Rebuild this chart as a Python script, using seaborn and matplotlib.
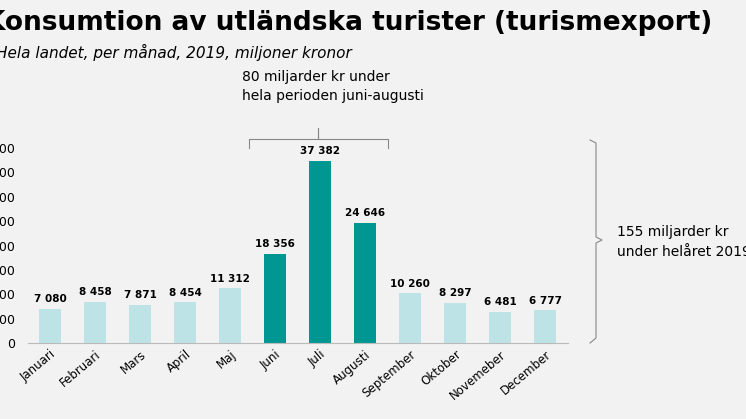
import matplotlib
matplotlib.use("Agg")
import matplotlib.pyplot as plt
import seaborn as sns
import pandas as pd

months = ["Januari","Februari","Mars","April","Maj","Juni","Juli","Augusti","September","Oktober","Novemeber","December"]
values = [7080, 8458, 7871, 8454, 11312, 18356, 37382, 24646, 10260, 8297, 6481, 6777]
highlight = [False]*5 + [True]*3 + [False]*4
yticks = list(range(0, 40001, 5000))

light, dark = "#bde3e6", "#009691"
bg = "#f2f2f2"
df = pd.DataFrame({"month": months, "value": values})

fig = plt.figure(figsize=(7.46, 4.19), dpi=100, facecolor=bg)
ax = fig.add_axes([0.037, 0.181, 0.724, 0.466])
ax.set_facecolor(bg)
sns.barplot(data=df, x="month", y="value", hue="month",
            palette=[dark if h else light for h in highlight], legend=False,
            width=0.5, saturation=1, ax=ax)
ax.set_xlim(-0.5, 11.5)
ax.set_ylim(0, 40000)
ax.set_yticks(yticks)
ax.set_yticklabels([f"{t:,}".replace(",", " ") for t in yticks], fontsize=9)
ax.tick_params(axis="y", length=0, pad=9)
ax.tick_params(axis="x", length=0, labelsize=8.5)
plt.setp(ax.get_xticklabels(), rotation=40, ha="right", rotation_mode="anchor")
ax.set_xlabel(""); ax.set_ylabel("")
for s in ["top", "right", "left"]:
    ax.spines[s].set_visible(False)
ax.spines["bottom"].set_color("#bbbbbb")
for i, v in enumerate(values):
    ax.text(i, v + 900, f"{v:,}".replace(",", " "), ha="center", va="bottom",
            fontsize=7.5, fontweight="bold")

fig.text(-0.02, 0.945, "Konsumtion av utländska turister (turismexport)", fontsize=19,
         fontweight="bold", va="center")
fig.text(-0.005, 0.875, "Hela landet, per månad, 2019, miljoner kronor", fontsize=11,
         style="italic", va="center", ha="left")
fig.text(0.324, 0.793, "80 miljarder kr under\nhela perioden juni-augusti", fontsize=10,
         va="center", linespacing=1.5)
W, H = 746, 419
def fx(x): return x / W
def fy(y): return 1 - y / H
br = [(249, 148), (249, 139), (318, 139), (318, 128), (318, 139), (388, 139), (388, 148)]
fig.add_artist(plt.Line2D([fx(p[0]) for p in br], [fy(p[1]) for p in br], color="#888888", lw=0.8))
rb = [(590, 140), (596, 143), (596, 237), (602, 240), (596, 243), (596, 338), (590, 343)]
fig.add_artist(plt.Line2D([fx(p[0]) for p in rb], [fy(p[1]) for p in rb], color="#888888", lw=0.8))
fig.text(fx(617), fy(242), "155 miljarder kr\nunder helåret 2019", fontsize=10,
         va="center", linespacing=1.5)

fig.savefig("out.png", dpi=100, facecolor=bg)
